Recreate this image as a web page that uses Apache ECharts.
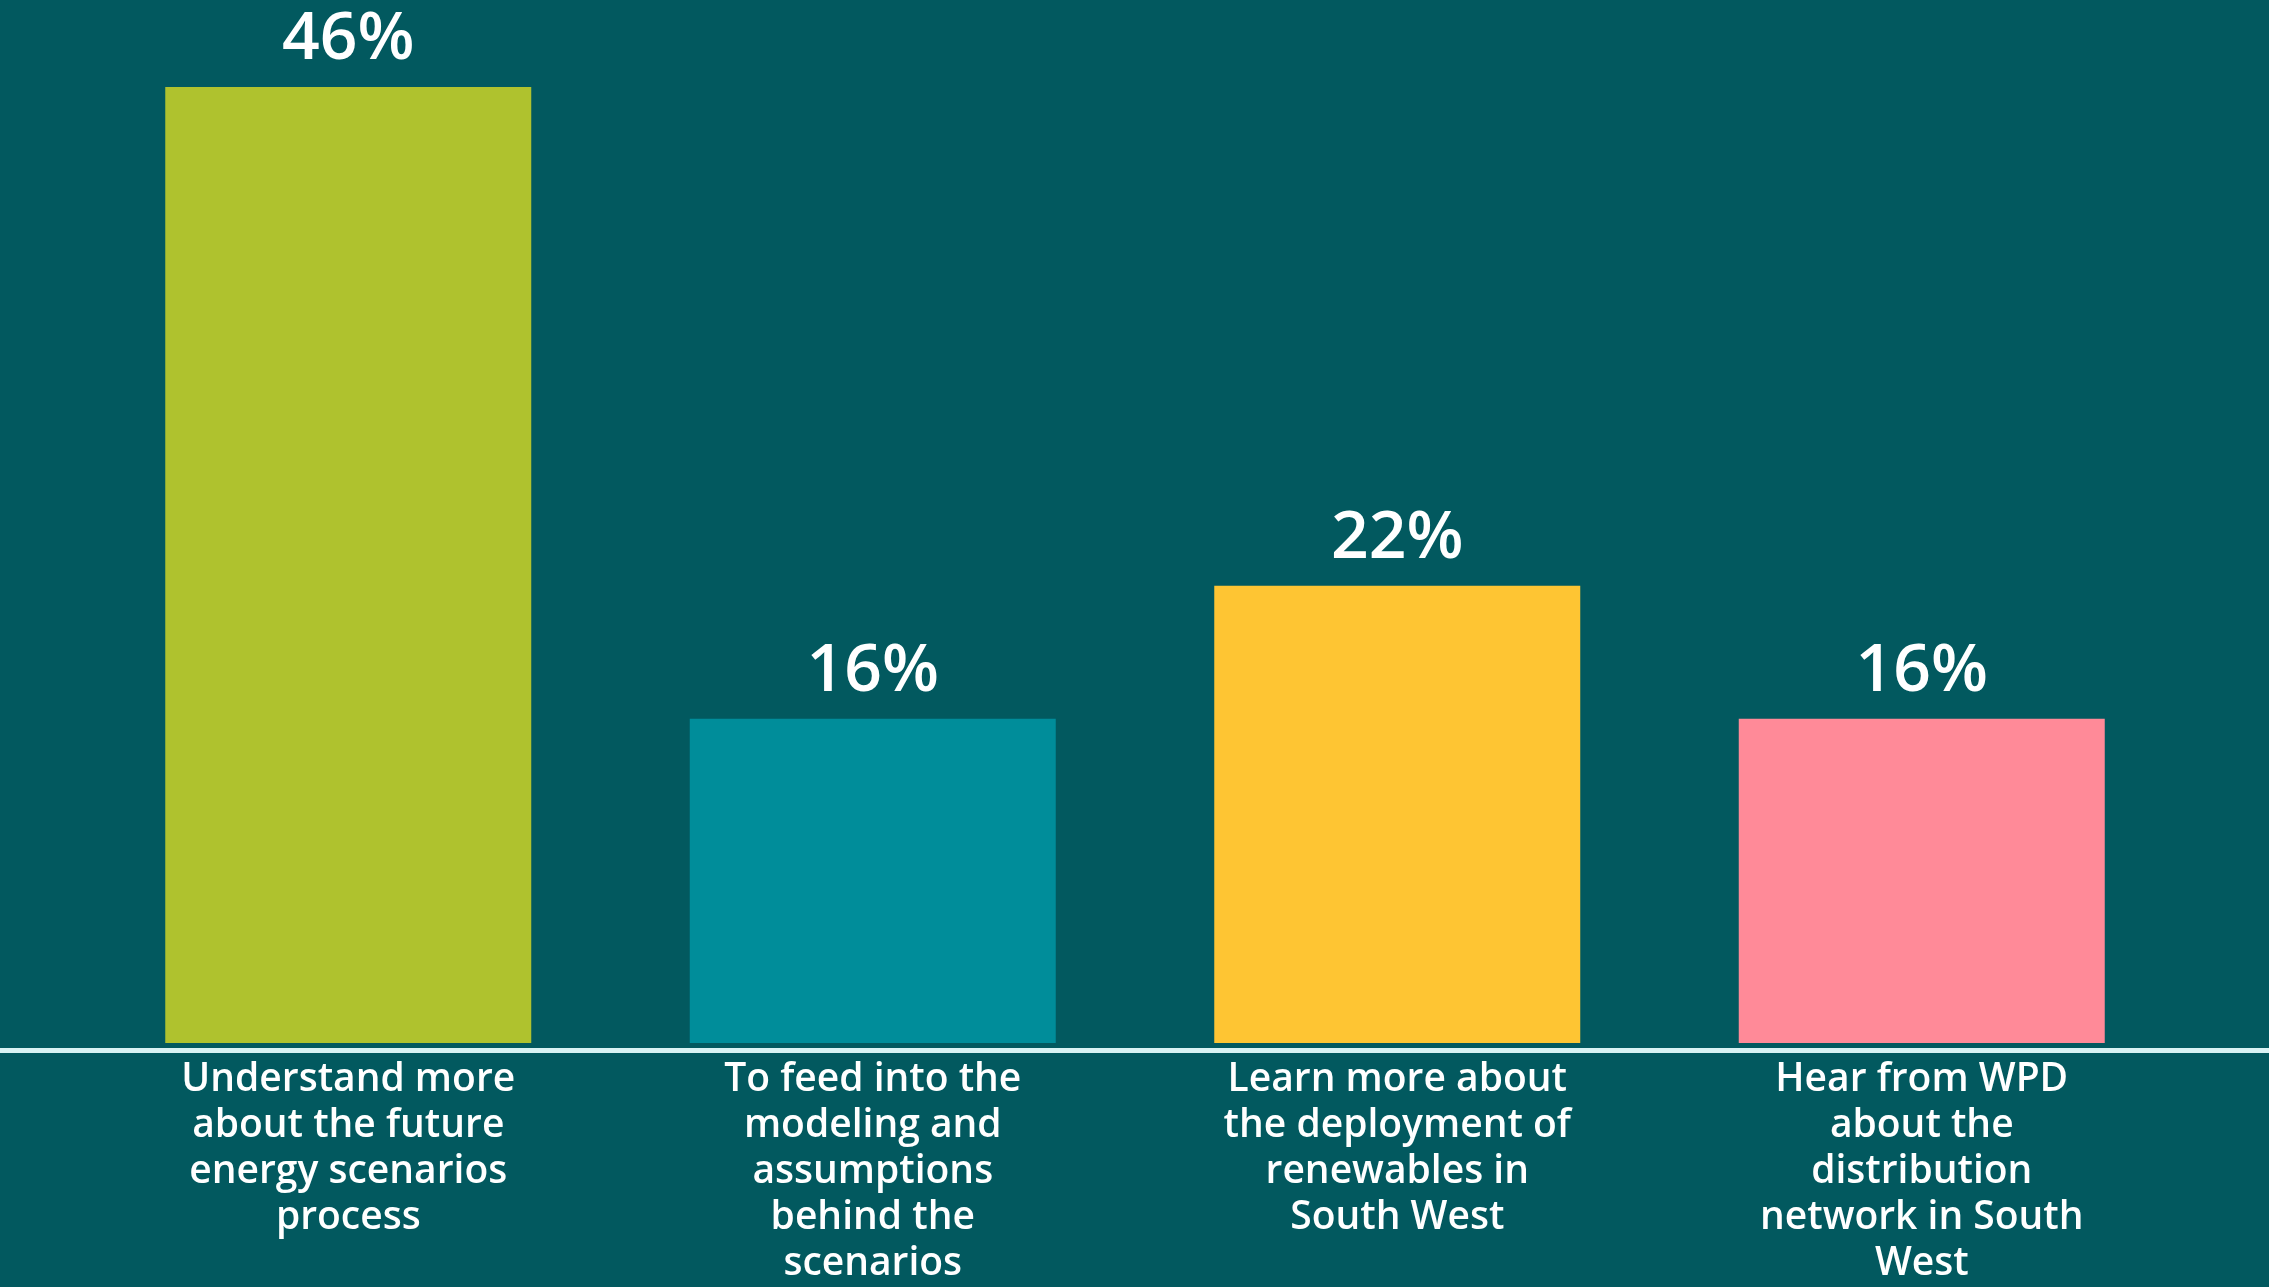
<!DOCTYPE html>
<html>
<head>
<meta charset="utf-8">
<script src="https://cdn.jsdelivr.net/npm/echarts@6/dist/echarts.min.js"></script>
<style>
  html, body { margin: 0; padding: 0; background: #02595f; }
  #chart { width: 2269px; height: 1287px; }
</style>
</head>
<body>
<div id="chart"></div>
<script>
// reasons for attending (share of respondents, %)
var categories = [
    'Understand more\nabout the future\nenergy scenarios\nprocess',
    'To feed into the\nmodeling and\nassumptions\nbehind the\nscenarios',
    'Learn more about\nthe deployment of\nrenewables in\nSouth West',
    'Hear from WPD\nabout the\ndistribution\nnetwork in South\nWest'
];
var values = [46, 15.6, 22, 15.6];
var barColors = ['#afc22e', '#008d9a', '#fec533', '#ff8a98'];

var chart = echarts.init(document.getElementById('chart'));

var option = {
    backgroundColor: '#02595f',
    animation: false,
    grid: [
        { left: 86, right: 85, top: 87, bottom: 237 },
        { left: 0, right: 0, top: 87, bottom: 237 }
    ],
    xAxis: [
        {
            type: 'category',
            gridIndex: 0,
            data: categories,
            axisLine: { show: false },
            axisTick: { show: false },
            axisLabel: {
                interval: 0,
                margin: 14,
                color: '#ffffff',
                fontFamily: 'Open Sans',
                fontWeight: 600,
                fontSize: 39,
                lineHeight: 46,
                align: 'center',
                verticalAlign: 'top'
            }
        },
        {
            type: 'value',
            gridIndex: 1,
            z: 5,
            axisLine: { show: true, onZero: false, lineStyle: { color: '#d9f3f4', width: 5 } },
            axisTick: { show: false },
            axisLabel: { show: false },
            splitLine: { show: false }
        }
    ],
    yAxis: [
        { type: 'value', gridIndex: 0, min: 0, max: 46, show: false },
        { type: 'value', gridIndex: 1, show: false }
    ],
    series: [
        {
            type: 'bar',
            xAxisIndex: 0,
            yAxisIndex: 0,
            barWidth: 366,
            data: values.map(function (v, i) {
                return { value: v, itemStyle: { color: barColors[i] } };
            }),
            label: {
                show: true,
                position: 'top',
                distance: 14,
                color: '#ffffff',
                fontFamily: 'Open Sans',
                fontWeight: 600,
                fontSize: 66,
                formatter: function (p) {
                    return Math.round(p.value) + '%';
                }
            }
        }
    ]
};

chart.setOption(option);
window.addEventListener('resize', function () {
    chart.resize();
});
</script>
</body>
</html>
